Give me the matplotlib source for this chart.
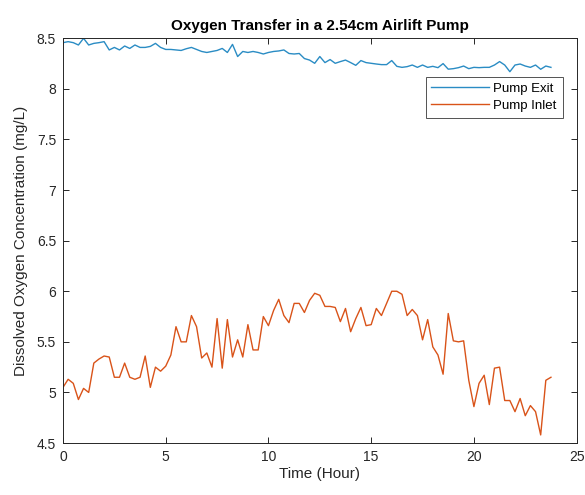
import numpy as np
import matplotlib
matplotlib.use("Agg")
import matplotlib.pyplot as plt

plt.rcParams["font.family"] = ["Liberation Sans", "DejaVu Sans"]

# readings every 15 minutes, 0 .. 23.75 h
hours = np.arange(96) * 0.25

pump_exit = [
    8.457, 8.467, 8.457, 8.434,
    8.50, 8.434, 8.45, 8.457,
    8.467, 8.385, 8.41, 8.385,
    8.424, 8.40, 8.434, 8.41,
    8.41, 8.42, 8.45, 8.41,
    8.39, 8.39, 8.385, 8.38,
    8.397, 8.41, 8.39, 8.37,
    8.36, 8.37, 8.38, 8.40,
    8.36, 8.44, 8.32, 8.37,
    8.36, 8.37, 8.36, 8.345,
    8.36, 8.37, 8.375, 8.385,
    8.35, 8.345, 8.35, 8.30,
    8.285, 8.253, 8.32, 8.26,
    8.29, 8.253, 8.27, 8.285,
    8.26, 8.233, 8.28, 8.26,
    8.253, 8.246, 8.24, 8.24,
    8.28, 8.223, 8.213, 8.22,
    8.236, 8.213, 8.236, 8.213,
    8.223, 8.21, 8.25, 8.195,
    8.20, 8.21, 8.226, 8.20,
    8.213, 8.21, 8.213, 8.213,
    8.236, 8.27, 8.236, 8.17,
    8.236, 8.246, 8.226, 8.213,
    8.236, 8.194, 8.226, 8.213,
]

pump_inlet = [
    5.05, 5.13, 5.09, 4.93,
    5.04, 5.00, 5.29, 5.33,
    5.36, 5.35, 5.15, 5.15,
    5.29, 5.15, 5.13, 5.15,
    5.36, 5.05, 5.25, 5.21,
    5.26, 5.37, 5.65, 5.50,
    5.50, 5.76, 5.65, 5.34,
    5.39, 5.25, 5.73, 5.24,
    5.72, 5.35, 5.52, 5.35,
    5.67, 5.42, 5.42, 5.75,
    5.66, 5.81, 5.92, 5.76,
    5.69, 5.88, 5.88, 5.79,
    5.91, 5.98, 5.96, 5.85,
    5.85, 5.84, 5.70, 5.83,
    5.60, 5.73, 5.84, 5.66,
    5.67, 5.83, 5.76, 5.88,
    6.00, 6.00, 5.97, 5.76,
    5.82, 5.76, 5.52, 5.72,
    5.45, 5.37, 5.18, 5.78,
    5.51, 5.50, 5.51, 5.12,
    4.86, 5.09, 5.17, 4.88,
    5.24, 5.25, 4.92, 4.92,
    4.81, 4.94, 4.77, 4.87,
    4.81, 4.58, 5.12, 5.15,
]

x_ticks = [0, 5, 10, 15, 20, 25]
y_ticks = [4.5, 5, 5.5, 6, 6.5, 7, 7.5, 8, 8.5]
y_tick_labels = ["4.5", "5", "5.5", "6", "6.5", "7", "7.5", "8", "8.5"]

fig = plt.figure(figsize=(5.85, 4.95), dpi=100)
ax = fig.add_axes([0.1077, 0.105, 0.878, 0.8176])

ax.plot(hours, pump_exit, color="#2a8cc4", linewidth=1.0, label="Pump Exit")
ax.plot(hours, pump_inlet, color="#d95319", linewidth=1.0, label="Pump Inlet")

ax.set_xlim(0, 25)
ax.set_ylim(4.5, 8.5)
ax.set_xticks(x_ticks)
ax.set_yticks(y_ticks)
ax.set_yticklabels(y_tick_labels)

ax.tick_params(direction="in", top=True, right=True, length=4, width=0.7,
               labelsize=10, colors="#262626", pad=5)
for sp in ax.spines.values():
    sp.set_color("#262626")
    sp.set_linewidth(0.7)

ax.set_xlabel("Time (Hour)", fontsize=11, color="#262626", labelpad=2)
ax.set_ylabel("Dissolved Oxygen Concentration (mg/L)", fontsize=11, color="#262626", labelpad=6)
ax.set_title("Oxygen Transfer in a 2.54cm Airlift Pump", fontsize=11, fontweight="bold",
             color="black", pad=6)

# legend: line handles and box as in the original figure
leg = ax.legend(loc="upper right", bbox_to_anchor=(0.973, 0.905), borderaxespad=0,
                fontsize=9.5, handlelength=4.4, handletextpad=0.3, frameon=True,
                fancybox=False, borderpad=0.45, labelspacing=0.35)
leg.get_frame().set_edgecolor("#262626")
leg.get_frame().set_linewidth(0.7)

fig.savefig("out.png", dpi=100)
